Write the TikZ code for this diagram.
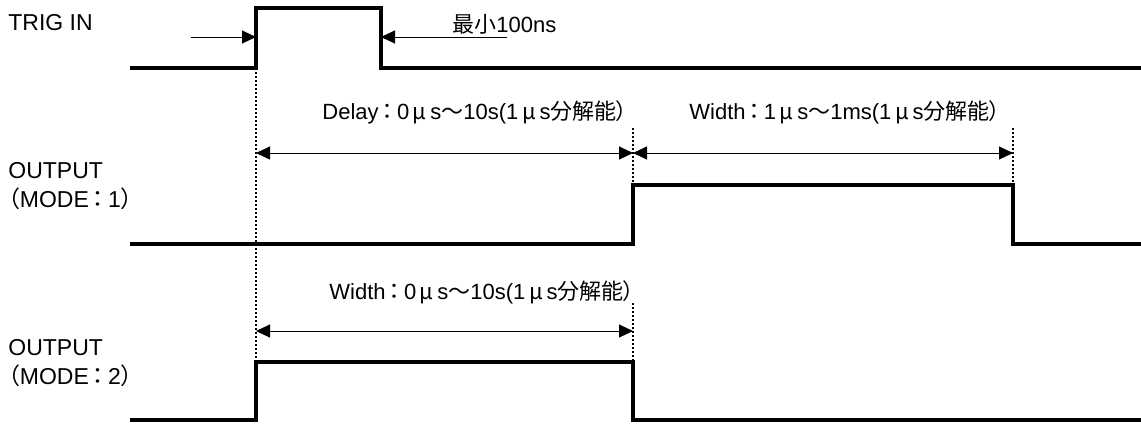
\documentclass[tikz,border=0pt]{standalone}
\usepackage{fontspec}
\setmainfont{Liberation Sans}
\newfontfamily\jp[RawFeature=+palt]{Noto Sans CJK JP}
\usetikzlibrary{arrows.meta}

\begin{document}
\begin{tikzpicture}[x=0.5pt,y=-0.5pt,
    wave/.style={line width=2pt},
    dim/.style={line width=0.5pt,-{Triangle[length=7pt,width=6.5pt]}},
    dimboth/.style={line width=0.5pt,{Triangle[length=7pt,width=6.5pt]}-{Triangle[length=7pt,width=6.5pt]}},
    guide/.style={line width=1.25pt,dash pattern=on 1.1pt off 0.9pt},
    sig/.style={inner sep=0pt,anchor=west,align=left,font=\fontsize{11.5}{14.5}\selectfont},
    note/.style={inner sep=0pt,font=\fontsize{11}{13}\selectfont}]
    \useasboundingbox (0,0) rectangle (1141,425);
    \begin{scope}[name prefix = trig-]
        \coordinate (a) at (130,68);
        \coordinate (b) at (256,68);
        \coordinate (c) at (256,8);
        \coordinate (d) at (381,8);
        \coordinate (e) at (381,68);
        \coordinate (f) at (1141,68);
        \coordinate (l) at (191,37);
        \coordinate (r) at (507,37);
        \node[sig] (name) at (8,23) {TRIG IN};
        \node[note,anchor=base west] (min) at (452,32) {{\jp 最小}100ns};
        \draw[wave] (a) -- (b) -- (c) -- (d) -- (e) -- (f);
        \draw[dim] (l) -- (b |- l);
        \draw[dim] (r) -- (e |- r);
    \end{scope}
    \begin{scope}[name prefix = m1-]
        \coordinate (a) at (130,244);
        \coordinate (b) at (633,244);
        \coordinate (c) at (633,185);
        \coordinate (d) at (1013,185);
        \coordinate (e) at (1013,244);
        \coordinate (f) at (1141,244);
        \coordinate (g) at (633,128);
        \coordinate (h) at (1013,128);
        \coordinate (s) at (256,153);
        \coordinate (m) at (633,153);
        \coordinate (t) at (1013,153);
        \node[sig] (name) at (8,186) {OUTPUT\\{\jp （}MODE\,{\jp ：}\,1{\jp ）}};
        \node[note,anchor=east] (delay) at (628,112) {Delay\,{\jp ：}\,0\,{\jp μ}\,s{\jp 〜}10s(1\,{\jp μ}\,s{\jp 分解能）}};
        \node[note,anchor=east] (width) at (1001,112) {Width\,{\jp ：}\,1\,{\jp μ}\,s{\jp 〜}1ms(1\,{\jp μ}\,s{\jp 分解能）}};
        \draw[wave] (a) -- (b) -- (c) -- (d) -- (e) -- (f);
        \draw[guide] (g) -- (c);
        \draw[guide] (h) -- (d);
        \draw[dimboth] (s) -- (m);
        \draw[dimboth] (m) -- (t);
    \end{scope}
    \begin{scope}[name prefix = m2-]
        \coordinate (a) at (130,420);
        \coordinate (b) at (256,420);
        \coordinate (c) at (256,362);
        \coordinate (d) at (633,362);
        \coordinate (e) at (633,420);
        \coordinate (f) at (1141,420);
        \coordinate (g) at (633,303);
        \coordinate (s) at (256,331);
        \coordinate (t) at (633,331);
        \node[sig] (name) at (8,363) {OUTPUT\\{\jp （}MODE\,{\jp ：}\,2{\jp ）}};
        \node[note,anchor=east] (width) at (635,292) {Width\,{\jp ：}\,0\,{\jp μ}\,s{\jp 〜}10s(1\,{\jp μ}\,s{\jp 分解能）}};
        \draw[wave] (a) -- (b) -- (c) -- (d) -- (e) -- (f);
        \draw[guide] (g) -- (d);
        \draw[dimboth] (s) -- (t);
    \end{scope}
    \draw[guide] (trig-b) -- (m2-c);
\end{tikzpicture}
\end{document}
